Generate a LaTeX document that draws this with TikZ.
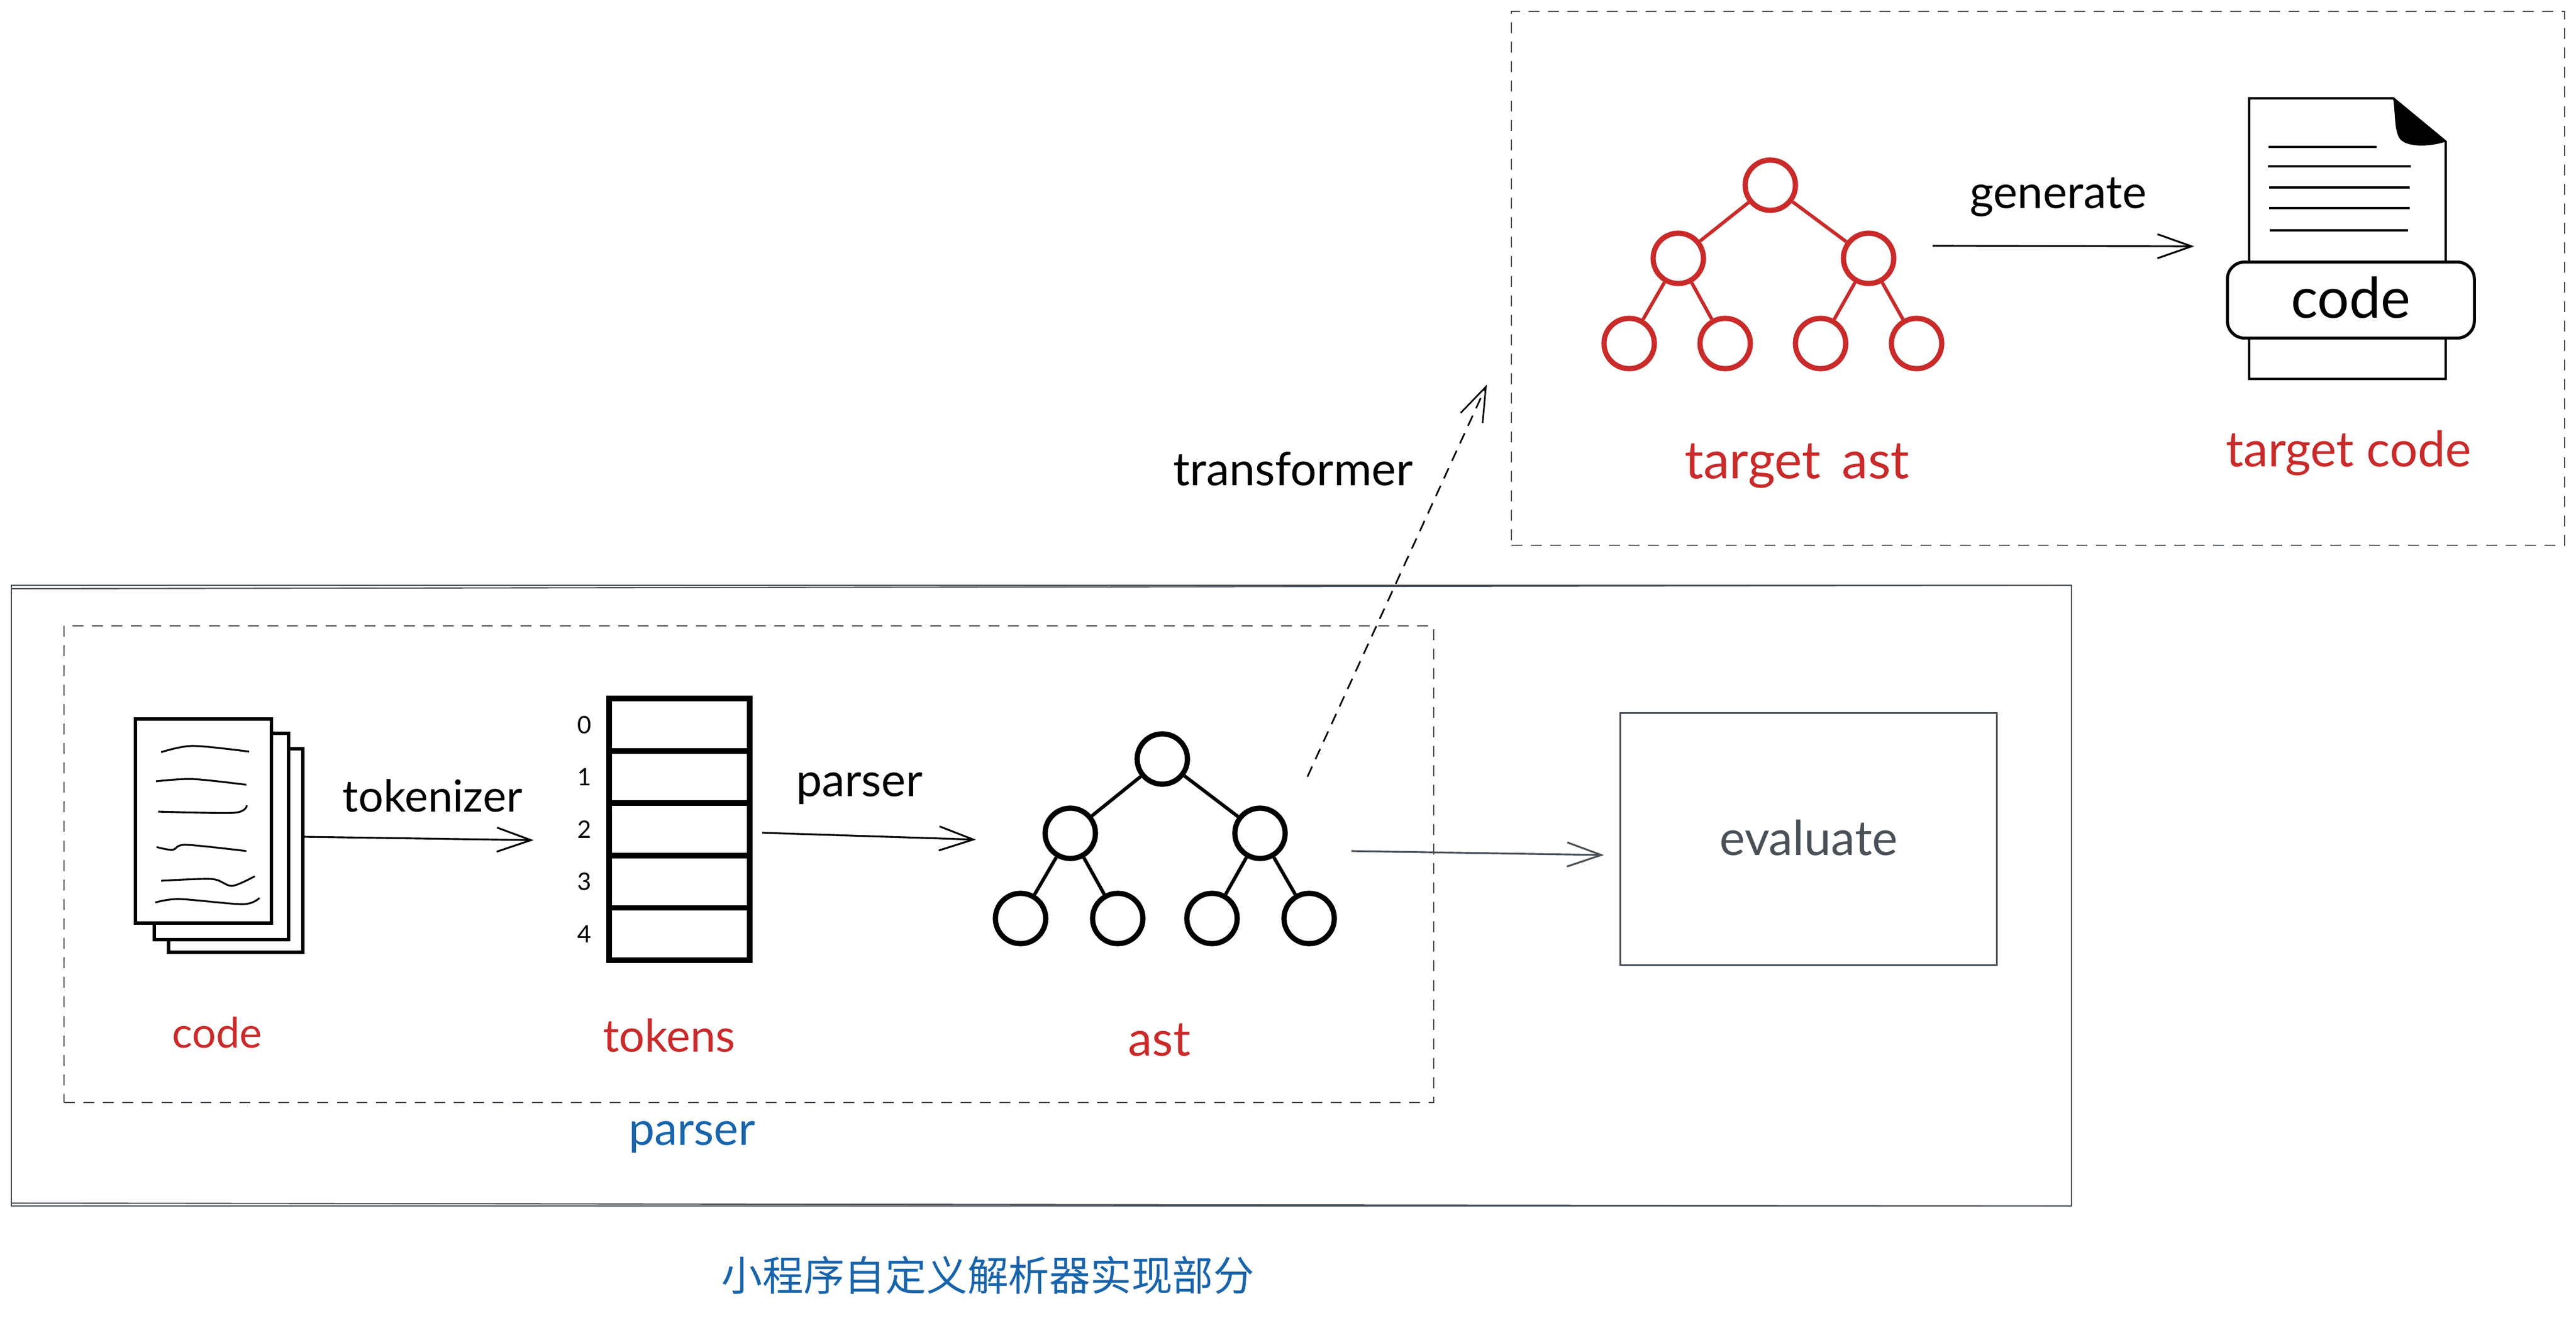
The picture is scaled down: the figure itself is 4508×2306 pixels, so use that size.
\documentclass[tikz,border=0pt]{standalone}
\usepackage{fontspec}
\setmainfont{Lato}
\newfontfamily\cjkfont{Noto Sans CJK SC}
\definecolor{myred}{HTML}{C92A2A}
\definecolor{myblue}{HTML}{1864AB}
\definecolor{mygrey}{HTML}{495057}
\usetikzlibrary{arrows.meta,positioning,fit}

\begin{document}
\begin{tikzpicture}[x=0.01cm,y=-0.01cm,
    >={Straight Barb[length=17pt,width=12pt]},
    txt/.style={font=\fontsize{#1}{30}\selectfont},
    greybox/.style={draw=mygrey,line width=0.8pt,inner sep=0pt,outer sep=0pt},
    dashbox/.style={greybox,dash pattern=on 5.4pt off 4.3pt},
    pagebox/.style={draw,fill=white,line width=1.5pt,inner sep=0pt,outer sep=0pt},
    tokcell/.style={draw,line width=2.8pt,minimum width=2.46cm,minimum height=0.915cm,outer sep=0pt,node distance=0.915cm},
    digit/.style={font=\fontsize{12}{14}\selectfont,node distance=1.66cm},
    blacknode/.style={draw,circle,line width=2.6pt,minimum size=0.88cm},
    rednode/.style={blacknode,draw=myred},
    scribble/.style={line width=0.9pt},
    arrowline/.style={line width=0.9pt,->}
    ]
    \useasboundingbox (0,0) rectangle (4508,2306);

    % the frames
    \node (main) [greybox,fit={(20,1024) (3625,2110)}] {};
    \draw[mygrey,line width=0.6pt] (main.north west) ++(0,6) -- (main.north east);
    \draw[mygrey,line width=0.6pt] (main.south west) ++(0,-5) -- (main.south east);
    \node (inner) [dashbox,fit={(112,1095) (2509,1929)}] {};
    \node (outbox) [dashbox,fit={(2645,20) (4488,954)}] {};
    \node (eval) [greybox,minimum width=6.58cm,minimum height=4.4cm,text=mygrey,txt=24] at (3165,1468) {\raisebox{1.5pt}{evaluate}};

    % the pile of pages
    \node (pg3) [pagebox,fit={(295,1310) (530,1666)}] {};
    \node (pg2) [pagebox,fit={(270,1283) (505,1644)}] {};
    \node (pg1) [pagebox,fit={(237,1258) (475,1615)}] {};
    \draw[scribble] plot[smooth] coordinates {(282,1316) (337,1305) (436,1315)};
    \draw[scribble] plot[smooth] coordinates {(273,1367) (337,1363) (431,1373)};
    \draw[scribble] plot[smooth] coordinates {(277,1420) (410,1422) (432,1409)};
    \draw[scribble] plot[smooth] coordinates {(274,1482) (302,1487) (325,1478) (431,1489)};
    \draw[scribble] plot[smooth] coordinates {(282,1541) (371,1538) (406,1550) (446,1533)};
    \draw[scribble] plot[smooth] coordinates {(272,1579) (314,1573) (425,1582) (454,1571)};
    \node (code) [txt=21,text=myred] at (380,1807) {code};

    % the token table
    \node (t0) [tokcell] at (1189,1268) {};
    \node (t1) [tokcell,below of=t0] {};
    \node (t2) [tokcell,below of=t1] {};
    \node (t3) [tokcell,below of=t2] {};
    \node (t4) [tokcell,below of=t3] {};
    \node (d0) [digit,left of=t0] {0};
    \node (d1) [digit,left of=t1] {1};
    \node (d2) [digit,left of=t2] {2};
    \node (d3) [digit,left of=t3] {3};
    \node (d4) [digit,left of=t4] {4};
    \node (tokens) [txt=22.5,text=myred] at (1171,1812) {tokens};

    % the ast
    \node (a0) [blacknode] at (2034,1328) {};
    \node (a1) [blacknode] at (1873,1458) {};
    \node (a2) [blacknode] at (2205,1458) {};
    \node (a3) [blacknode] at (1786,1607) {};
    \node (a4) [blacknode] at (1956,1607) {};
    \node (a5) [blacknode] at (2121,1607) {};
    \node (a6) [blacknode] at (2291,1607) {};
    \draw[line width=1.7pt] (a0) -- (a1);
    \draw[line width=1.7pt] (a0) -- (a2);
    \draw[line width=1.7pt] (a1) -- (a3);
    \draw[line width=1.7pt] (a1) -- (a4);
    \draw[line width=1.7pt] (a2) -- (a5);
    \draw[line width=1.7pt] (a2) -- (a6);
    \node (ast) [txt=24,text=myred] at (2029,1820) {ast};

    % the target ast
    \node (b0) [rednode] at (3098,324) {};
    \node (b1) [rednode] at (2937,452) {};
    \node (b2) [rednode] at (3270,452) {};
    \node (b3) [rednode] at (2851,601) {};
    \node (b4) [rednode] at (3019,601) {};
    \node (b5) [rednode] at (3186,601) {};
    \node (b6) [rednode] at (3354,601) {};
    \draw[myred,line width=1.7pt] (b0) -- (b1);
    \draw[myred,line width=1.7pt] (b0) -- (b2);
    \draw[myred,line width=1.7pt] (b1) -- (b3);
    \draw[myred,line width=1.7pt] (b1) -- (b4);
    \draw[myred,line width=1.7pt] (b2) -- (b5);
    \draw[myred,line width=1.7pt] (b2) -- (b6);
    \node (tast) [txt=26,text=myred] at (3145,815) {target\hspace{0.15em} ast};

    % the target code sheet
    \draw[line width=1.2pt] (3936,172) -- (4188,172) -- (4280,248) -- (4280,663) -- (3936,663) -- cycle;
    \fill (4188,172) -- (4280,248) .. controls (4240,260) and (4205,255) .. (4198,240) .. controls (4190,225) and (4192,200) .. (4188,172);
    \draw[scribble] (3970,257) -- (4159,257);
    \draw[scribble] (3969,291) -- (4219,291);
    \draw[scribble] (3971,328) -- (4217,328);
    \draw[scribble] (3971,364) -- (4217,364);
    \draw[scribble] (3972,403) -- (4214,403);
    \node (band) [pagebox,rounded corners=0.3cm,minimum width=4.32cm,minimum height=1.33cm,txt=28] at (4114,525) {\raisebox{2.5pt}{code}};
    \node (tcode) [txt=24.5,text=myred] at (4110,793) {target code};

    % the arrows
    \coordinate (c1) at (530,1464);
    \coordinate (c2) at (934,1470);
    \coordinate (c3) at (1334,1457);
    \coordinate (c4) at (1708,1469);
    \coordinate (c5) at (2365,1489);
    \coordinate (c6) at (2807,1496);
    \coordinate (c7) at (2288,1359);
    \coordinate (c8) at (2602,673);
    \coordinate (c9) at (3382,430);
    \coordinate (c10) at (3840,431);
    \draw[arrowline] (c1) -- (c2);
    \draw[arrowline] (c3) -- (c4);
    \draw[arrowline,mygrey] (c5) -- (c6);
    \draw[arrowline,line width=0.8pt,dash pattern=on 5.6pt off 4pt] (c7) -- (c8);
    \draw[arrowline] (c9) -- (c10);

    % the other texts
    \node (ltok) [txt=22] at (757,1392) {tokenizer};
    \node (lpar) [txt=23] at (1504,1380) {parser};
    \node (ltra) [txt=23] at (2263,820) {transformer};
    \node (lgen) [txt=22.8] at (3602,345) {generate};
    \node (lblue) [txt=23,text=myblue] at (1211,1990) {parser};
    \node (title) [text=myblue,font=\cjkfont\fontsize{20.4}{26}\selectfont] at (1729,2231) {小程序自定义解析器实现部分};
\end{tikzpicture}
\end{document}
